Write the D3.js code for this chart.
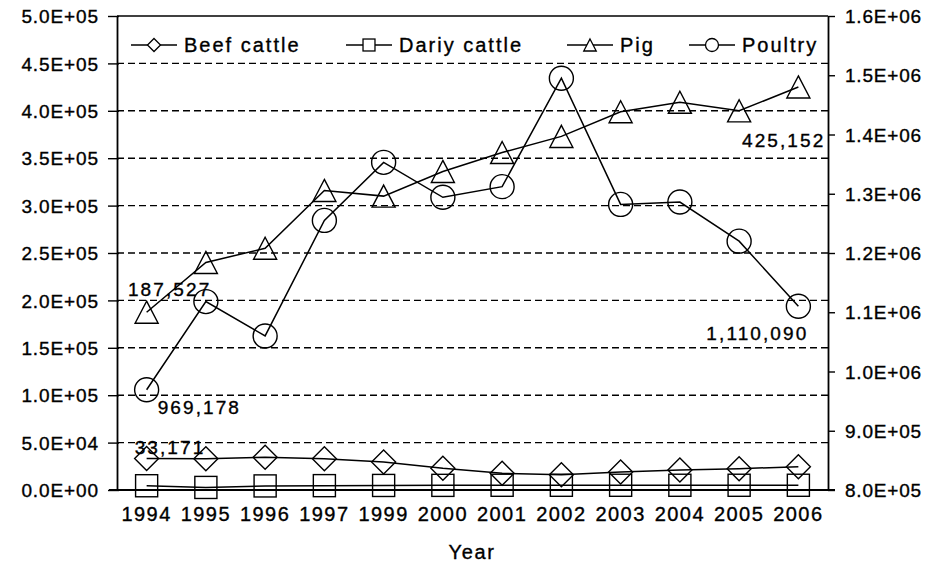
<!DOCTYPE html>
<html>
<head>
<meta charset="utf-8">
<script src="https://cdn.jsdelivr.net/npm/d3@7/dist/d3.min.js"></script>
<style>
  html, body { margin: 0; padding: 0; background: #fff; }
  svg { display: block; }
  text { font-family: "Liberation Sans", Arial, sans-serif; fill: #000; stroke: #000; stroke-width: 0.35px; }
</style>
</head>
<body>
<svg id="chart" width="940" height="568"></svg>
<script>
// ---- data ----
const years = ["1994","1995","1996","1997","1999","2000","2001","2002","2003","2004","2005","2006"];
const beefCattle  = [33171, 33000, 34500, 33000, 29600, 22900, 17600, 16200, 19000, 21100, 22500, 24500];
const dairyCattle = [4500, 2700, 4300, 4600, 4800, 4900, 5000, 5000, 5000, 5000, 5000, 5000];
const pig         = [187527, 240000, 255000, 316000, 310000, 336000, 356000, 373000, 399000, 409000, 400000, 425152];
const poultry     = [969178, 1118000, 1060000, 1255000, 1353000, 1294000, 1312000, 1495000, 1282000, 1286000, 1220000, 1110090];
const seriesNames = ["Beef cattle", "Dariy cattle", "Pig", "Poultry"];
const leftTicks  = [0, 50000, 100000, 150000, 200000, 250000, 300000, 350000, 400000, 450000, 500000];
const rightTicks = [800000, 900000, 1000000, 1100000, 1200000, 1300000, 1400000, 1500000, 1600000];
const leftTickLabels  = ["0.0E+00","5.0E+04","1.0E+05","1.5E+05","2.0E+05","2.5E+05","3.0E+05","3.5E+05","4.0E+05","4.5E+05","5.0E+05"];
const rightTickLabels = ["8.0E+05","9.0E+05","1.0E+06","1.1E+06","1.2E+06","1.3E+06","1.4E+06","1.5E+06","1.6E+06"];
const xTitle = "Year";
// data labels: [series index, point index, text]
const dataLabels = [
  [2, 0, "187,527"],
  [2, 11, "425,152"],
  [3, 0, "969,178"],
  [3, 11, "1,110,090"],
  [0, 0, "33,171"]
];

// ---- layout ----
const svg = d3.select("#chart");
const L = 117, R = 828, T = 16, B = 490;

const x = d3.scaleBand().domain(years).range([L, R]);
const xc = d => x(d) + x.bandwidth() / 2;
const yL = d3.scaleLinear().domain([0, 500000]).range([B, T]);
const yR = d3.scaleLinear().domain([800000, 1600000]).range([B, T]);

const series = [
  { name: seriesNames[0], values: beefCattle,  y: yL, shape: "diamond" },
  { name: seriesNames[1], values: dairyCattle, y: yL, shape: "square" },
  { name: seriesNames[2], values: pig,         y: yL, shape: "triangle" },
  { name: seriesNames[3], values: poultry,     y: yR, shape: "circle" }
];

// gridlines (dashed)
svg.append("g").selectAll("line")
  .data(leftTicks.filter(t => t > 0 && t < 500000))
  .join("line")
  .attr("x1", L).attr("x2", R)
  .attr("y1", d => yL(d)).attr("y2", d => yL(d))
  .attr("stroke", "#000").attr("stroke-width", 1.4)
  .attr("stroke-dasharray", "7,4");

// top border
svg.append("line").attr("x1", L).attr("x2", R).attr("y1", T).attr("y2", T)
  .attr("stroke", "#000").attr("stroke-width", 1.6);

// left axis
const leftAxis = d3.axisLeft(yL).tickValues(leftTicks)
  .tickFormat((d, i) => leftTickLabels[i]).tickSizeInner(9).tickSizeOuter(0).tickPadding(9);
const gl = svg.append("g").attr("transform", `translate(${L},0)`).call(leftAxis);
gl.select(".domain").attr("stroke", "#000").attr("stroke-width", 1.8);
gl.selectAll(".tick line").attr("stroke", "#000").attr("stroke-width", 1.4).attr("x2", -9).attr("x1", 2);
gl.selectAll(".tick text").attr("font-size", 19).attr("letter-spacing", 0.9)
  .attr("font-family", "Liberation Sans, Arial, sans-serif").attr("dy", "0.35em");

// right axis
const rightAxis = d3.axisRight(yR).tickValues(rightTicks)
  .tickFormat((d, i) => rightTickLabels[i]).tickSizeInner(7).tickSizeOuter(0).tickPadding(10);
const gr = svg.append("g").attr("transform", `translate(${R},0)`).call(rightAxis);
gr.select(".domain").attr("stroke", "#000").attr("stroke-width", 1.8);
gr.selectAll(".tick line").attr("stroke", "#000").attr("stroke-width", 1.4);
gr.selectAll(".tick text").attr("font-size", 19).attr("letter-spacing", 0.8)
  .attr("font-family", "Liberation Sans, Arial, sans-serif").attr("dy", "0.35em");

// bottom axis
const bottomAxis = d3.axisBottom(x).tickSize(0).tickPadding(24);
const gb = svg.append("g").attr("transform", `translate(0,${B})`).call(bottomAxis);
gb.select(".domain").attr("d", `M${L - 8},0H${R + 7}`).attr("stroke", "#000").attr("stroke-width", 2);
gb.selectAll(".tick text").attr("font-size", 20).attr("letter-spacing", 1.4)
  .attr("font-family", "Liberation Sans, Arial, sans-serif").attr("dy", "0.35em");

svg.append("text").attr("x", 472).attr("y", 559).attr("text-anchor", "middle")
  .attr("font-size", 20).attr("letter-spacing", 1.6).text(xTitle);

// markers
function marker(g, shape, cx, cy, s) {
  if (shape === "diamond") {
    g.append("path").attr("d", `M${cx},${cy - s}L${cx + s},${cy}L${cx},${cy + s}L${cx - s},${cy}Z`);
  } else if (shape === "square") {
    const h = s * 0.92;
    g.append("rect").attr("x", cx - h).attr("y", cy - h).attr("width", 2 * h).attr("height", 2 * h);
  } else if (shape === "triangle") {
    const w = s * 0.96, h = s * 0.92;
    g.append("path").attr("d", `M${cx},${cy - h}L${cx + w},${cy + h}L${cx - w},${cy + h}Z`);
  } else {
    g.append("circle").attr("cx", cx).attr("cy", cy).attr("r", s);
  }
}

const line = d3.line();
series.forEach(s => {
  const pts = s.values.map((v, i) => [xc(years[i]), s.y(v)]);
  svg.append("path").attr("d", line(pts)).attr("fill", "none")
    .attr("stroke", "#000").attr("stroke-width", 1.5);
  const g = svg.append("g").attr("fill", "none").attr("stroke", "#000").attr("stroke-width", 1.4);
  pts.forEach(p => marker(g, s.shape, p[0], p[1], 12));
});

// data labels
const labelOffsets = {
  "2-0":  { dx: 23,  dy: -16, anchor: "middle" },
  "2-11": { dx: 27,  dy: 60,  anchor: "end" },
  "3-0":  { dx: 11,  dy: 24,  anchor: "start" },
  "3-11": { dx: 10,  dy: 34,  anchor: "end" },
  "0-0":  { dx: -12, dy: -5,  anchor: "start" }
};
dataLabels.forEach(([si, pi, txt]) => {
  const s = series[si];
  const o = labelOffsets[si + "-" + pi];
  svg.append("text")
    .attr("x", xc(years[pi]) + o.dx)
    .attr("y", s.y(s.values[pi]) + o.dy)
    .attr("text-anchor", o.anchor)
    .attr("font-size", 19).attr("letter-spacing", 2.1)
    .text(txt);
});

// legend
const legendX = [131, 346, 567, 689];
const legendY = 45;
series.forEach((s, i) => {
  const g = svg.append("g").attr("transform", `translate(${legendX[i]},${legendY})`);
  g.append("line").attr("x1", 0).attr("x2", 46).attr("y1", 0).attr("y2", 0)
    .attr("stroke", "#000").attr("stroke-width", 1.5);
  const mg = g.append("g").attr("fill", "#fff").attr("stroke", "#000").attr("stroke-width", 1.3);
  marker(mg, s.shape, 23, 0, 6.5);
  g.append("text").attr("x", 53).attr("y", 0).attr("dy", "0.36em")
    .attr("font-size", 20).attr("letter-spacing", 2.0).text(s.name);
});
</script>
</body>
</html>
